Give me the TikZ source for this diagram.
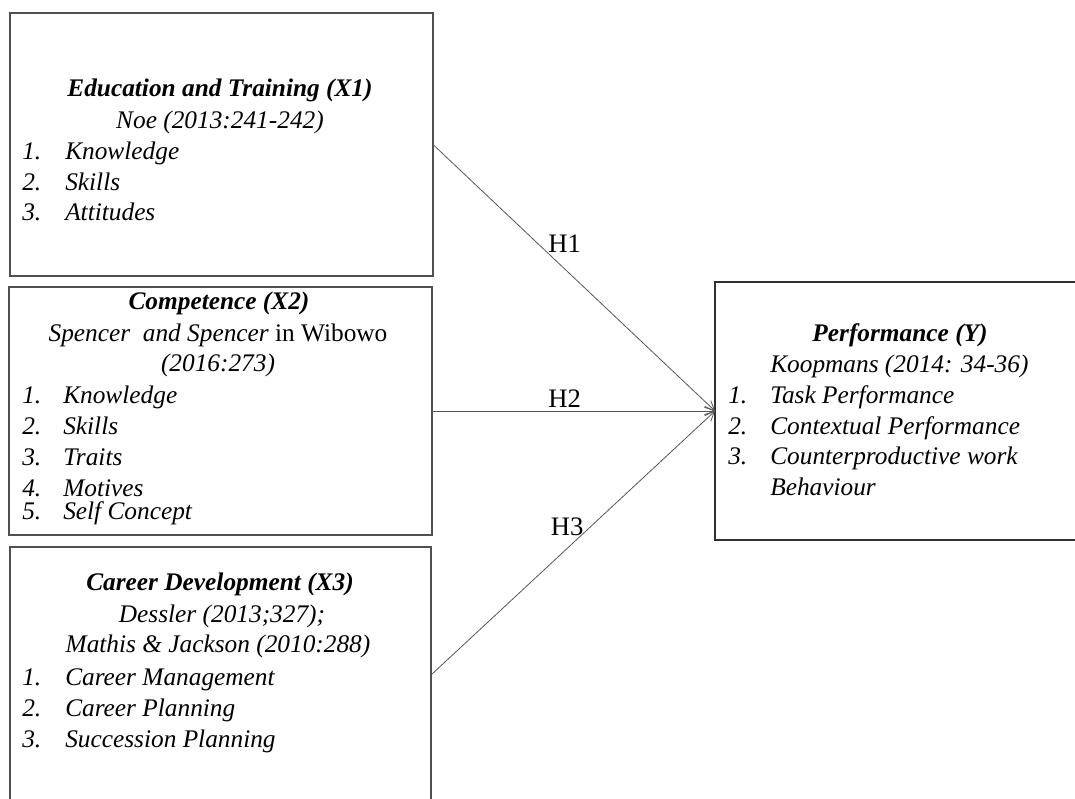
\documentclass[tikz,border=0pt]{standalone}
\usepackage{fontspec}
\setmainfont{Liberation Serif}
\usetikzlibrary{arrows.meta}
\definecolor{boxgray}{HTML}{505050}
\definecolor{ygray}{HTML}{303030}
\definecolor{linegray}{HTML}{555555}
\tikzset{
  box/.style={draw=boxgray, line width=0.8pt, inner sep=0pt, outer sep=0pt, anchor=north west},
  ybox/.style={draw=ygray, line width=1.5pt, inner sep=0pt, outer sep=0pt, anchor=north west},
  tx/.style={font=\fontsize{19}{23}\selectfont\itshape, inner sep=0pt, anchor=base west},
  txc/.style={font=\fontsize{19}{23}\selectfont\itshape, inner sep=0pt, anchor=base},
  ttl/.style={font=\fontsize{19}{23}\selectfont\bfseries\itshape, inner sep=0pt, anchor=base},
  hl/.style={font=\fontsize{20}{24}\selectfont, inner sep=0pt, anchor=base west},
  conn/.style={draw=linegray, line width=0.6pt, -{Straight Barb[length=7pt,width=7pt]}}
}
\begin{document}
\begin{tikzpicture}[x=0.75pt,y=-0.75pt]
\useasboundingbox (0,0) rectangle (1075,799);
\clip (0,0) rectangle (1075,799);
% boxes
\node[box, minimum width=317.25pt, minimum height=197.25pt] (b1) at (10,13) {};
\node[box, minimum width=317.25pt, minimum height=186pt] (b2) at (9,287) {};
\node[box, minimum width=315.75pt, minimum height=192pt] (b3) at (10,547) {};
\node[ybox, minimum width=277.5pt, minimum height=193.5pt] (by) at (715,282) {};
% box 1 text
\node[ttl] (t1) at (220,97) {Education and Training (X1)};
\node[txc] (c1) at (220,128) {Noe (2013:241-242)};
\node[tx] (n11) at (22,159) {1.};
\node[tx] (i11) at (65,159) {Knowledge};
\node[tx] (n12) at (22,190) {2.};
\node[tx] (i12) at (65,190) {Skills};
\node[tx] (n13) at (22,220) {3.};
\node[tx] (i13) at (65,220) {Attitudes};
% box 2 text
\node[ttl] (t2) at (219,309) {Competence (X2)};
\node[txc] (c2a) at (218,341.5) {Spencer\ \ and Spencer\upshape\ in Wibowo};
\node[txc] (c2b) at (218,371.5) {(2016:273)};
\node[tx] (n21) at (22,403) {1.};
\node[tx] (i21) at (63,403) {Knowledge};
\node[tx] (n22) at (22,434) {2.};
\node[tx] (i22) at (63,434) {Skills};
\node[tx] (n23) at (22,465) {3.};
\node[tx] (i23) at (63,465) {Traits};
\node[tx] (n24) at (22,496) {4.};
\node[tx] (i24) at (63,496) {Motives};
\node[tx] (n25) at (22,519) {5.};
\node[tx] (i25) at (63,519) {Self Concept};
% box 3 text
\node[ttl] (t3) at (220,590) {Career Development (X3)};
\node[txc] (c3a) at (222,622) {Dessler (2013;327);};
\node[txc] (c3b) at (218,652) {Mathis \& Jackson (2010:288)};
\node[tx] (n31) at (22,685) {1.};
\node[tx] (i31) at (65,685) {Career Management};
\node[tx] (n32) at (22,716) {2.};
\node[tx] (i32) at (65,716) {Career Planning};
\node[tx] (n33) at (22,747) {3.};
\node[tx] (i33) at (65,747) {Succession Planning};
% box Y text
\node[ttl] (ty) at (900,341.5) {Performance (Y)};
\node[tx] (cy) at (770,372) {Koopmans (2014: 34-36)};
\node[tx] (ny1) at (728,403) {1.};
\node[tx] (iy1) at (770,403) {Task Performance};
\node[tx] (ny2) at (728,434) {2.};
\node[tx] (iy2) at (770,434) {Contextual Performance};
\node[tx] (ny3) at (728,464.5) {3.};
\node[tx] (iy3) at (770,464.5) {Counterproductive work};
\node[tx] (iy4) at (770,495) {Behaviour};
% connectors
\draw[conn] (b1.east) -- (by.west);
\draw[conn] (b2.east) -- (by.west);
\draw[conn] (b3.east) -- (by.west);
% labels
\node[hl] (h1) at (548,252.5) {H1};
\node[hl] (h2) at (548,407) {H2};
\node[hl] (h3) at (550.5,535.5) {H3};
\end{tikzpicture}
\end{document}
